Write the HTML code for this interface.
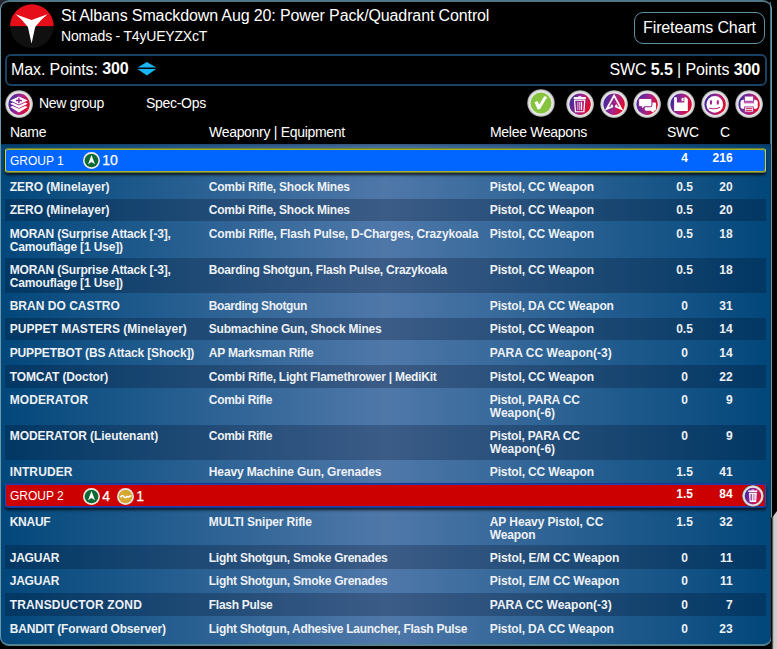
<!DOCTYPE html>
<html>
<head>
<meta charset="utf-8">
<title>Army list</title>
<style>
html,body{margin:0;padding:0;background:#000;}
body{width:777px;height:649px;overflow:hidden;position:relative;font-family:"Liberation Sans",sans-serif;color:#fff;}
.abs{position:absolute;}
#corner{position:absolute;left:0;top:0;width:10px;height:10px;background:#2a2430;}
#wrap{position:absolute;left:0;top:0;width:772px;height:646px;border-radius:9px;background:#000;overflow:hidden;}
#frame{position:absolute;left:0;top:0;width:772px;height:646px;box-sizing:border-box;border:1px solid #6599ab;border-top:2px solid #4f7684;border-bottom:2px solid #55808f;border-radius:9px;pointer-events:none;}
#title{position:absolute;left:61px;top:6px;font-size:16px;line-height:20px;white-space:nowrap;letter-spacing:-0.12px;}
#sub{position:absolute;left:61px;top:27px;font-size:14px;line-height:18px;white-space:nowrap;letter-spacing:-0.2px;}
#ft{position:absolute;left:634px;top:12px;width:131px;height:32px;box-sizing:border-box;border:1px solid #5f8fa0;border-radius:9px;font-size:16px;line-height:29px;text-align:center;white-space:nowrap;letter-spacing:-0.12px;}
#pts{position:absolute;left:4.5px;top:54px;width:762px;height:31.5px;box-sizing:border-box;border:2px solid #194265;border-radius:6px;}
#pts .l{position:absolute;left:4.5px;top:4px;font-size:16px;line-height:20px;white-space:nowrap;letter-spacing:-0.1px;}
#pts .l b{position:relative;top:-1px;}
#pts .r{position:absolute;right:4.5px;top:4px;font-size:16px;line-height:20px;white-space:nowrap;letter-spacing:-0.11px;}
.tb{position:absolute;font-size:14px;line-height:18px;white-space:nowrap;letter-spacing:-0.3px;}
.ic{position:absolute;width:28.2px;height:28.2px;}
.gi{position:absolute;width:17px;height:17px;}
.th{position:absolute;top:123px;font-size:14px;line-height:18px;white-space:nowrap;letter-spacing:-0.3px;}
#tbl{position:absolute;left:0;top:144px;width:770px;height:502px;background:#02477a;overflow:hidden;}
#tbl .bg{position:absolute;left:0;top:0;width:770px;height:502px;background:linear-gradient(to bottom,rgba(0,10,30,.28) 0,rgba(0,10,30,0) 4px),linear-gradient(to right,#02477a 0%,#4f78a9 50%,#02477a 100%);}
.row{position:absolute;left:5px;width:761px;font-size:12px;line-height:12.7px;font-weight:bold;color:#eef1f5;white-space:nowrap;}
.tx{position:absolute;left:0;width:761px;height:0;}
.row.d{background:rgba(0,8,30,.25);}
.row span{position:absolute;top:0;}
.row i{font-style:normal;}
.c1{left:4.7px;}
.c2{left:203.8px;}
.c3{left:484.8px;}
.c4{left:654.5px;width:50px;text-align:center;}
.c5{left:687.6px;width:40px;text-align:right;}
.grp{position:absolute;left:5px;width:761px;box-sizing:border-box;border-radius:3px;font-size:12px;color:#fff;white-space:nowrap;}
.grp span{position:absolute;}
.grp .gn{left:4px;top:6px;line-height:12.33px;}
.grp .n{font-size:14px;line-height:16px;top:3px;-webkit-text-stroke:0.25px #fff;}
.grp .c4,.grp .c5{font-weight:bold;top:3px;line-height:12.33px;}
#g2 .c4,#g2 .c5{top:4px;}
#g2 .n{top:4px;}
.grp .c4{left:653.7px;}
.grp .c5{left:686.6px;}
#g1{top:4px;height:25px;background:#0066ff;border:1px solid #d2d726;border-top-color:#6e8434;border-bottom-color:#6b7a30;box-shadow:inset 0 1px 0 #a5b02c,inset 0 -1px 0 #a5b02c,0 2px 3px rgba(0,0,0,.75);}
#g2{top:339px;height:25px;background:#cc0000;border:1px solid #1450d0;border-top-color:#123c8c;border-bottom-color:#123c8c;box-shadow:inset 0 1px 0 #2a3cb0,inset 0 -1px 0 #2a3cb0,0 2px 3px rgba(0,0,0,.75);}
#rs1{position:absolute;left:770px;top:2px;width:1px;height:142px;background:#456d7b;}
#rs2{position:absolute;left:770px;top:144px;width:1px;height:496px;background:#1d3a48;}
#grey{position:absolute;left:770.6px;top:511px;width:6.4px;height:138px;background:linear-gradient(to right,#000 0,#161616 0.9px,#555 1.5px,#a8a8a8 2.2px,#cbcbcb 3px,#cdcdcd 100%);clip-path:polygon(0 6.5px,1.6px 6.5px,6.4px 0,6.4px 138px,0 138px);}
</style>
</head>
<body>
<svg width="0" height="0" style="position:absolute;left:0;top:0">
  <defs>
    <linearGradient id="ig" x1="0" y1="0.35" x2="1" y2="0.65">
      <stop offset="0" stop-color="#3b2a9d"/><stop offset="0.5" stop-color="#a4238c"/><stop offset="1" stop-color="#e9081a"/>
    </linearGradient>
    <radialGradient id="rim" cx="0.5" cy="0.5" r="0.5">
      <stop offset="0.74" stop-color="#eeeeee"/><stop offset="0.86" stop-color="#e0e0e0"/><stop offset="0.94" stop-color="#bcbcbc"/><stop offset="1" stop-color="#3c3c3c"/>
    </radialGradient>
    <symbol id="b" viewBox="0 0 28 28"><circle cx="14" cy="14" r="14" fill="url(#rim)"/><circle cx="14" cy="14.2" r="10.6" fill="url(#ig)"/></symbol>
    <symbol id="bg" viewBox="0 0 28 28"><circle cx="14" cy="14" r="14" fill="url(#rim)"/><circle cx="14" cy="14.1" r="10.5" fill="#86c43f"/></symbol>
    <symbol id="trash" viewBox="0 0 28 28">
      <use href="#b"/>
      <rect x="7.7" y="7" width="12" height="1.9" fill="#fff"/>
      <rect x="12.2" y="5.9" width="3" height="1.2" fill="#fff" opacity=".75"/>
      <path d="M8.5 10.1 L18.6 10.1 L17.8 21.6 L9.4 21.6 Z" fill="none" stroke="#fff" stroke-width="1.2"/>
      <rect x="11.1" y="11.8" width="1.2" height="8" fill="#fff" opacity=".55"/>
      <rect x="12.8" y="11.8" width="1.2" height="8" fill="#fff" opacity=".55"/>
      <rect x="14.7" y="11.8" width="1.3" height="8" fill="#fff"/>
    </symbol>
    <symbol id="trash2" viewBox="0 0 28 28">
      <use href="#b"/>
      <rect x="8" y="7" width="11.6" height="1.9" fill="#fff"/>
      <rect x="12.2" y="5.7" width="3.2" height="1.4" fill="#fff" opacity=".8"/>
      <path d="M8.9 9.8 L18.9 9.8 L18.1 21.8 L9.9 21.8 Z" fill="#fff"/>
      <rect x="11" y="11.6" width="1.5" height="8.2" fill="#7a2590"/>
      <rect x="13.8" y="11.6" width="1.1" height="8.2" fill="#c868ae"/>
      <rect x="15.9" y="11.6" width="1.1" height="8.2" fill="#d070a8"/>
    </symbol>
    <symbol id="gi" viewBox="0 0 17 17">
      <circle cx="8.5" cy="8.5" r="8.45" fill="#efe9e2"/>
      <circle cx="8.5" cy="8.5" r="6.85" fill="#0c6a35"/>
      <path d="M8.5 2.9 L11.95 12.25 L8.5 9.9 L5.05 12.25 Z" fill="#fff"/>
    </symbol>
    <symbol id="yi" viewBox="0 0 17 17">
      <circle cx="8.5" cy="8.5" r="8.45" fill="#e6e6e6"/>
      <circle cx="8.5" cy="8.5" r="6.85" fill="#d5a731"/>
      <path d="M3.8 8.9 Q5.3 6.2 6.9 8.6 Q8.3 10.8 9.8 8.4 L11.2 8.9 L13.6 7.9" fill="none" stroke="#fff" stroke-width="1.6" stroke-linecap="round" stroke-linejoin="round"/>
    </symbol>
  </defs>
</svg>
<div id="corner"></div>
<div id="wrap">
  <svg class="abs" style="left:9.5px;top:3.5px" width="44" height="44" viewBox="0 0 44 44">
    <defs><clipPath id="lc"><circle cx="21.9" cy="22.1" r="21.8"/></clipPath></defs>
    <g clip-path="url(#lc)">
      <rect x="0" y="0" width="44" height="22.4" fill="#e60e18"/>
      <rect x="0" y="22.4" width="44" height="22" fill="#101010"/>
    </g>
    <path d="M5.6 10.3 L21.55 15.9 L37.5 10.3 Q30.1 16.2 25.2 23 L21.55 39.7 L17.9 23 Q13 16.2 5.6 10.3 Z" fill="#fff"/>
  </svg>
  <div id="title">St Albans Smackdown Aug 20: Power Pack/Quadrant Control</div>
  <div id="sub">Nomads - T4yUEYZXcT</div>
  <div id="ft">Fireteams Chart</div>
  <div id="pts">
    <div class="l">Max. Points: <b>300</b></div>
    <svg class="abs" style="left:130px;top:5px" width="20" height="16" viewBox="0 0 20 16"><path d="M0.4 6.6 L9.9 0.9 L19.2 6.6 Z" fill="#18b4f4"/><path d="M0.4 8.1 L9.9 14.4 L19.2 8.1 Z" fill="#18b4f4"/></svg>
    <div class="r">SWC <b>5.5</b> | Points <b>300</b></div>
  </div>
  <svg class="ic" style="left:5.2px;top:89.9px" viewBox="0 0 28 28"><use href="#b"/>
    <path d="M5.1 10.4 L13.8 6.4 L22.6 10.4 L13.8 14.4 Z" fill="#fff"/>
    <path d="M10.8 10.4 H16.8 M13.8 7.6 V13.2" stroke="#8a2392" stroke-width="1.4" fill="none"/>
    <path d="M5.1 13.6 L7.6 12.4 L13.8 15.3 L20.1 12.4 L22.6 13.6 L13.8 17.8 Z" fill="#fff"/>
    <path d="M5.1 17 L7.6 15.8 L13.8 18.7 L20.1 15.8 L22.6 17 L13.8 22.3 Z" fill="#fff"/>
  </svg>
  <svg class="ic" style="left:527.1px;top:89px;width:28px;height:28px" viewBox="0 0 28 28"><use href="#bg"/>
    <path d="M7.5 13.2 L10.4 11.9 L12.2 15.6 L17.2 7.2 L20.3 7.9 L12.9 20.3 L10.5 20.3 Z" fill="#fff"/>
  </svg>
  <svg class="ic" style="left:566.2px;top:89.9px" viewBox="0 0 28 28"><use href="#trash"/></svg>
  <svg class="ic" style="left:600.2px;top:89.9px" viewBox="0 0 28 28"><use href="#b"/>
    <path d="M11.3 14.7 L12.3 16.4 L6.7 18.7 L14 5.6 L21.2 18.7 L15.7 16.4 L16.7 14.7" fill="none" stroke="#fff" stroke-width="1.8" stroke-linejoin="miter"/><rect x="13.2" y="13.8" width="1.7" height="4" fill="#6a1f8c" opacity=".55"/>
  </svg>
  <svg class="ic" style="left:633.3px;top:89.9px" viewBox="0 0 28 28"><use href="#b"/>
    <path d="M13 12.3 H21.6 Q22.9 12.3 22.9 13.6 V19.2 Q22.9 20.5 21.6 20.5 H21 L20.2 22.6 L17.6 20.5 H13 Q11.6 20.5 11.6 19.2 V13.6 Q11.6 12.3 13 12.3 Z" fill="#fff"/>
    <path d="M7 8.5 H17.4 Q18.8 8.5 18.8 9.9 V15.2 Q18.8 16.6 17.4 16.6 H11.6 L8.6 19.2 V16.6 H7 Q5.6 16.6 5.6 15.2 V9.9 Q5.6 8.5 7 8.5 Z" fill="#fff" stroke="#8f2493" stroke-width="1"/>
  </svg>
  <svg class="ic" style="left:667.3px;top:89.9px" viewBox="0 0 28 28"><use href="#b"/>
    <path fill-rule="evenodd" d="M7.1 7.1 H18.7 L20.7 9 V20.9 H7.1 Z M9.8 7.1 V12.5 H17.2 V7.1 Z" fill="#fff"/>
    <rect x="14.5" y="7.9" width="2" height="3.2" fill="#fff"/>
  </svg>
  <svg class="ic" style="left:701.3px;top:89.9px" viewBox="0 0 28 28"><use href="#b"/>
    <circle cx="13.7" cy="14.3" r="8.3" fill="#fff"/>
    <ellipse cx="9.9" cy="12.3" rx="1.15" ry="2.3" fill="#a3248d"/>
    <ellipse cx="16.7" cy="12.3" rx="1.15" ry="2.3" fill="#b0208a"/>
    <path d="M8.2 17.9 Q12.8 19.7 19 17.1" fill="none" stroke="#b8227f" stroke-width="1"/>
  </svg>
  <svg class="ic" style="left:735.3px;top:89.9px" viewBox="0 0 28 28"><use href="#b"/>
    <rect x="5.5" y="9.8" width="17.1" height="8.9" rx="2.6" fill="#fff"/>
    <rect x="8.8" y="9.2" width="10.2" height="4.1" fill="#c860b4"/>
    <rect x="9.6" y="6.1" width="8.6" height="5" fill="#fff" stroke="#8a2a9a" stroke-width=".7"/>
    <rect x="9.6" y="16.8" width="8.6" height="5.1" fill="#fff" stroke="#a3248d" stroke-width=".9"/>
    <path d="M10.9 18.5 H17 M10.9 20.3 H17" stroke="#d00f3c" stroke-width=".9"/>
  </svg>
  <div class="tb" style="left:39px;top:94px">New group</div>
  <div class="tb" style="left:146px;top:94px">Spec-Ops</div>
  <div class="th" style="left:10px">Name</div>
  <div class="th" style="left:209px">Weaponry | Equipment</div>
  <div class="th" style="left:490px">Melee Weapons</div>
  <div class="th" style="left:667px">SWC</div>
  <div class="th" style="left:720px">C</div>

  <div id="tbl">
    <div class="bg"></div>
    <div class="grp" id="g1"><span class="gn">GROUP 1</span><svg class="gi" style="left:77.2px;top:2.85px" viewBox="0 0 17 17"><use href="#gi"/></svg><span class="n" style="left:96.2px">10</span><span class="c4">4</span><span class="c5">216</span></div>
    <div class="row" style="top:30.3px;height:24.4px"><div class="tx" style="top:6.7px"><span class="c1"><i style="letter-spacing:-0.008px">ZERO (Minelayer)</i></span><span class="c2"><i style="letter-spacing:-0.238px">Combi Rifle, Shock Mines</i></span><span class="c3"><i style="letter-spacing:-0.138px">Pistol, CC Weapon</i></span><span class="c4">0.5</span><span class="c5">20</span></div></div>
    <div class="row d" style="top:54.7px;height:22.3px"><div class="tx" style="top:5.3px"><span class="c1"><i style="letter-spacing:-0.008px">ZERO (Minelayer)</i></span><span class="c2"><i style="letter-spacing:-0.238px">Combi Rifle, Shock Mines</i></span><span class="c3"><i style="letter-spacing:-0.138px">Pistol, CC Weapon</i></span><span class="c4">0.5</span><span class="c5">20</span></div></div>
    <div class="row" style="top:77.0px;height:36.6px"><div class="tx" style="top:7.0px"><span class="c1"><i style="letter-spacing:-0.188px">MORAN (Surprise Attack [-3],</i><br><i style="letter-spacing:-0.144px">Camouflage [1 Use])</i></span><span class="c2"><i style="letter-spacing:-0.169px">Combi Rifle, Flash Pulse, D-Charges, Crazykoala</i></span><span class="c3"><i style="letter-spacing:-0.138px">Pistol, CC Weapon</i></span><span class="c4">0.5</span><span class="c5">18</span></div></div>
    <div class="row d" style="top:113.6px;height:35.7px"><div class="tx" style="top:6.4px"><span class="c1"><i style="letter-spacing:-0.188px">MORAN (Surprise Attack [-3],</i><br><i style="letter-spacing:-0.144px">Camouflage [1 Use])</i></span><span class="c2"><i style="letter-spacing:-0.240px">Boarding Shotgun, Flash Pulse, Crazykoala</i></span><span class="c3"><i style="letter-spacing:-0.138px">Pistol, CC Weapon</i></span><span class="c4">0.5</span><span class="c5">18</span></div></div>
    <div class="row" style="top:149.3px;height:24.2px"><div class="tx" style="top:6.7px"><span class="c1"><i style="letter-spacing:0.014px">BRAN DO CASTRO</i></span><span class="c2"><i style="letter-spacing:-0.416px">Boarding Shotgun</i></span><span class="c3"><i style="letter-spacing:-0.134px">Pistol, DA CC Weapon</i></span><span class="c4">0</span><span class="c5">31</span></div></div>
    <div class="row d" style="top:173.5px;height:22.5px"><div class="tx" style="top:5.5px"><span class="c1"><i style="letter-spacing:0.019px">PUPPET MASTERS (Minelayer)</i></span><span class="c2"><i style="letter-spacing:-0.226px">Submachine Gun, Shock Mines</i></span><span class="c3"><i style="letter-spacing:-0.138px">Pistol, CC Weapon</i></span><span class="c4">0.5</span><span class="c5">14</span></div></div>
    <div class="row" style="top:196.0px;height:24.5px"><div class="tx" style="top:7.0px"><span class="c1"><i style="letter-spacing:-0.129px">PUPPETBOT (BS Attack [Shock])</i></span><span class="c2"><i style="letter-spacing:-0.218px">AP Marksman Rifle</i></span><span class="c3"><i style="letter-spacing:0.012px">PARA CC Weapon(-3)</i></span><span class="c4">0</span><span class="c5">14</span></div></div>
    <div class="row d" style="top:220.5px;height:23.5px"><div class="tx" style="top:6.5px"><span class="c1"><i style="letter-spacing:-0.115px">TOMCAT (Doctor)</i></span><span class="c2"><i style="letter-spacing:-0.252px">Combi Rifle, Light Flamethrower | MediKit</i></span><span class="c3"><i style="letter-spacing:-0.138px">Pistol, CC Weapon</i></span><span class="c4">0</span><span class="c5">22</span></div></div>
    <div class="row" style="top:244.0px;height:36.6px"><div class="tx" style="top:6.0px"><span class="c1"><i style="letter-spacing:0.104px">MODERATOR</i></span><span class="c2"><i style="letter-spacing:-0.297px">Combi Rifle</i></span><span class="c3"><i style="letter-spacing:-0.178px">Pistol, PARA CC</i><br><i style="letter-spacing:0.019px">Weapon(-6)</i></span><span class="c4">0</span><span class="c5">9</span></div></div>
    <div class="row d" style="top:280.6px;height:35.5px"><div class="tx" style="top:5.4px"><span class="c1"><i style="letter-spacing:-0.048px">MODERATOR (Lieutenant)</i></span><span class="c2"><i style="letter-spacing:-0.297px">Combi Rifle</i></span><span class="c3"><i style="letter-spacing:-0.178px">Pistol, PARA CC</i><br><i style="letter-spacing:0.019px">Weapon(-6)</i></span><span class="c4">0</span><span class="c5">9</span></div></div>
    <div class="row" style="top:316.1px;height:22.9px"><div class="tx" style="top:5.9px"><span class="c1"><i style="letter-spacing:0.112px">INTRUDER</i></span><span class="c2"><i style="letter-spacing:-0.128px">Heavy Machine Gun, Grenades</i></span><span class="c3"><i style="letter-spacing:-0.138px">Pistol, CC Weapon</i></span><span class="c4">1.5</span><span class="c5">41</span></div></div>
    <div class="grp" id="g2"><span class="gn">GROUP 2</span><svg class="gi" style="left:77.2px;top:3.8px" viewBox="0 0 17 17"><use href="#gi"/></svg><span class="n" style="left:96.3px">4</span><svg class="gi" style="left:111.25px;top:3.8px" viewBox="0 0 17 17"><use href="#yi"/></svg><span class="n" style="left:130.2px">1</span><svg class="abs" style="left:736.4px;top:1px;width:21.9px;height:21.9px" viewBox="0 0 28 28"><use href="#trash2"/></svg><span class="c4">1.5</span><span class="c5">84</span></div>
    <div class="row" style="top:365.0px;height:36.4px"><div class="tx" style="top:7.0px"><span class="c1"><i style="letter-spacing:-0.260px">KNAUF</i></span><span class="c2"><i style="letter-spacing:-0.155px">MULTI Sniper Rifle</i></span><span class="c3"><i style="letter-spacing:-0.092px">AP Heavy Pistol, CC</i><br><i style="letter-spacing:-0.142px">Weapon</i></span><span class="c4">1.5</span><span class="c5">32</span></div></div>
    <div class="row d" style="top:401.4px;height:23.9px"><div class="tx" style="top:6.6px"><span class="c1"><i style="letter-spacing:-0.212px">JAGUAR</i></span><span class="c2"><i style="letter-spacing:-0.253px">Light Shotgun, Smoke Grenades</i></span><span class="c3"><i style="letter-spacing:-0.077px">Pistol, E/M CC Weapon</i></span><span class="c4">0</span><span class="c5">11</span></div></div>
    <div class="row" style="top:425.3px;height:23.4px"><div class="tx" style="top:5.7px"><span class="c1"><i style="letter-spacing:-0.212px">JAGUAR</i></span><span class="c2"><i style="letter-spacing:-0.253px">Light Shotgun, Smoke Grenades</i></span><span class="c3"><i style="letter-spacing:-0.077px">Pistol, E/M CC Weapon</i></span><span class="c4">0</span><span class="c5">11</span></div></div>
    <div class="row d" style="top:448.7px;height:23.3px"><div class="tx" style="top:6.3px"><span class="c1"><i style="letter-spacing:0.157px">TRANSDUCTOR ZOND</i></span><span class="c2"><i style="letter-spacing:-0.273px">Flash Pulse</i></span><span class="c3"><i style="letter-spacing:0.012px">PARA CC Weapon(-3)</i></span><span class="c4">0</span><span class="c5">7</span></div></div>
    <div class="row" style="top:472.0px;height:29.0px"><div class="tx" style="top:7.0px"><span class="c1"><i style="letter-spacing:-0.157px">BANDIT (Forward Observer)</i></span><span class="c2"><i style="letter-spacing:-0.281px">Light Shotgun, Adhesive Launcher, Flash Pulse</i></span><span class="c3"><i style="letter-spacing:-0.134px">Pistol, DA CC Weapon</i></span><span class="c4">0</span><span class="c5">23</span></div></div>
  </div>
</div>
<div id="rs1"></div><div id="rs2"></div>
<div id="frame"></div>
<div id="grey"></div>
</body>
</html>
